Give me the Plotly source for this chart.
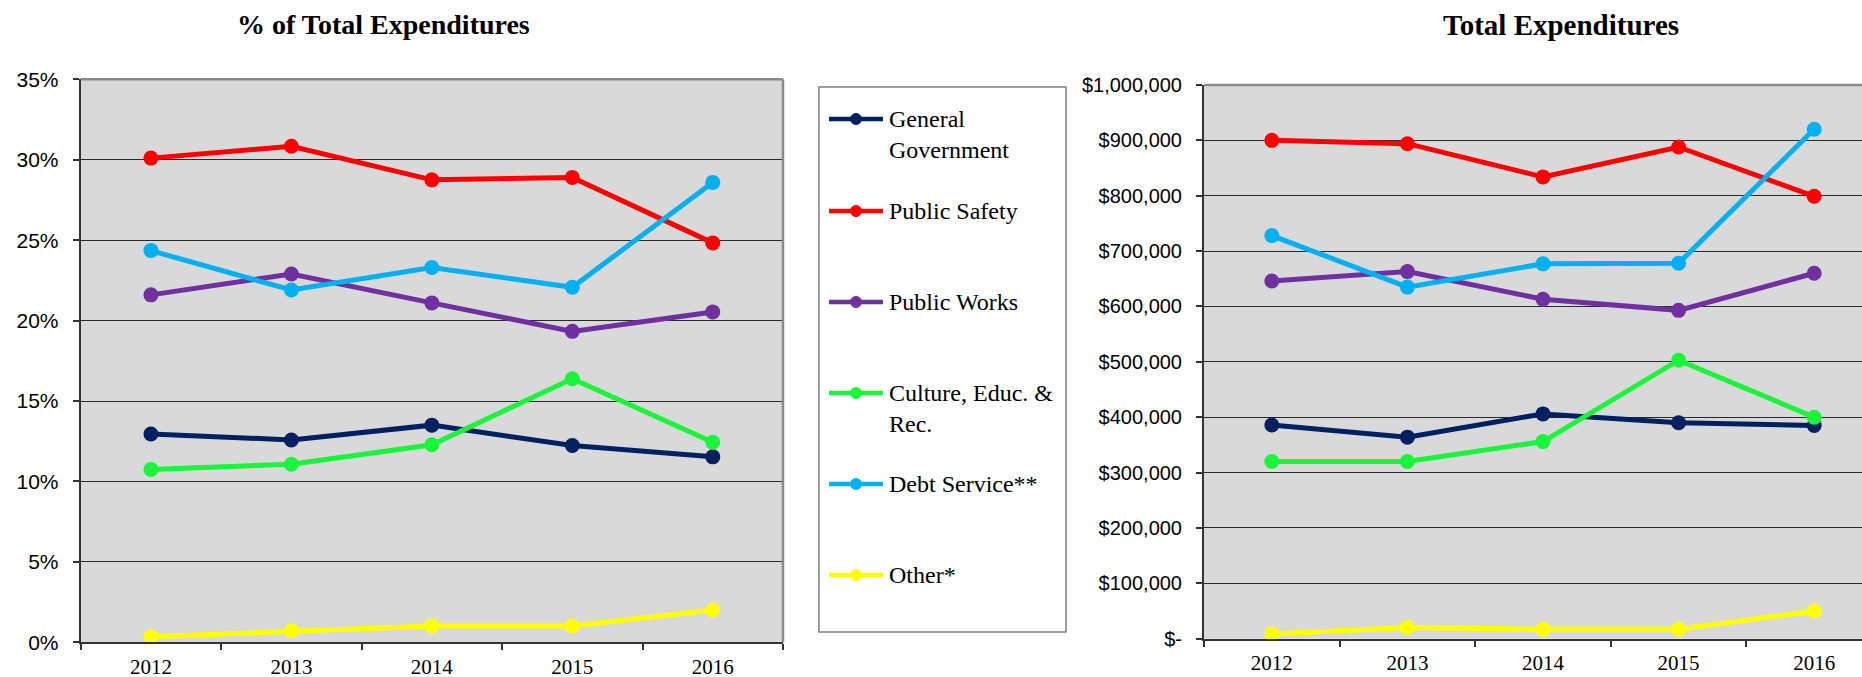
import plotly.graph_objects as go

W, H = 1862, 677

# ---------------- data ----------------
years = ["2012", "2013", "2014", "2015", "2016"]

series_names = ["General<br>Government", "Public Safety", "Public Works",
                "Culture, Educ. &<br>Rec.", "Debt Service**", "Other*"]
series_colors = ["#002060", "#ff0000", "#7030a0", "#19f53a", "#00b0f0", "#ffff00"]

# % of total expenditures
pct_general = [12.95, 12.58, 13.50, 12.23, 11.53]
pct_safety = [30.10, 30.84, 28.75, 28.90, 24.83]
pct_works = [21.60, 22.90, 21.10, 19.33, 20.54]
pct_culture = [10.75, 11.07, 12.28, 16.38, 12.44]
pct_debt = [24.35, 21.90, 23.30, 22.07, 28.59]
pct_other = [0.35, 0.72, 1.02, 1.02, 2.01]

# total expenditures ($)
usd_general = [386000, 364000, 406000, 390000, 385000]
usd_safety = [900000, 894000, 834000, 888000, 799000]
usd_works = [646000, 663000, 613000, 593000, 660000]
usd_culture = [320000, 320000, 356000, 503000, 400000]
usd_debt = [728000, 635000, 677000, 678000, 920000]
usd_other = [8600, 20300, 17200, 17200, 50000]

pct_ticks = [0, 5, 10, 15, 20, 25, 30, 35]
pct_ticktext = ["0%", "5%", "10%", "15%", "20%", "25%", "30%", "35%"]
usd_ticks = [0, 100000, 200000, 300000, 400000, 500000, 600000, 700000, 800000, 900000, 1000000]
usd_ticktext = ["$-", "$100,000", "$200,000", "$300,000", "$400,000", "$500,000",
                "$600,000", "$700,000", "$800,000", "$900,000", "$1,000,000"]

left_title = "% of Total Expenditures"
right_title = "Total Expenditures"

pct_series = [pct_general, pct_safety, pct_works, pct_culture, pct_debt, pct_other]
usd_series = [usd_general, usd_safety, usd_works, usd_culture, usd_debt, usd_other]

# ---------------- layout helpers ----------------
def px(x):
    return x / W


def py(y):
    return 1 - y / H


SANS = "Arial, Liberation Sans, sans-serif"
SERIF = "Times New Roman, Liberation Serif, serif"
LINE_W = 5
MARK = 15

fig = go.Figure()

for name, col, vals in zip(series_names, series_colors, pct_series):
    fig.add_trace(go.Scatter(x=years, y=vals, mode="lines+markers", name=name,
                             line=dict(color=col, width=LINE_W),
                             marker=dict(color=col, size=MARK),
                             cliponaxis=False, showlegend=False,
                             xaxis="x", yaxis="y"))

for name, col, vals in zip(series_names, series_colors, usd_series):
    fig.add_trace(go.Scatter(x=years, y=vals, mode="lines+markers", name=name,
                             line=dict(color=col, width=LINE_W),
                             marker=dict(color=col, size=MARK),
                             cliponaxis=False, showlegend=False,
                             xaxis="x2", yaxis="y2"))

# plot geometry (pixels)
L_x0, L_x1, L_y0, L_y1 = 80.7, 783.0, 79.3, 642.3
R_x0, R_y0, R_y1 = 1204.0, 85.0, 638.7
R_cat = 135.6
R_range_end = -0.5 + (W - R_x0) / R_cat

axis_common = dict(showline=True, linecolor="#333333", linewidth=2,
                   ticks="outside", ticklen=6, tickcolor="#333333", tickwidth=1.5,
                   zeroline=False, automargin=False)

fig.update_layout(
    width=W, height=H, template="none",
    margin=dict(l=0, r=0, t=0, b=0),
    paper_bgcolor="white", plot_bgcolor="#d9d9d9",
    showlegend=False,
    xaxis=dict(domain=[px(L_x0), px(L_x1)], anchor="y", type="category",
               categoryorder="array", categoryarray=years, range=[-0.5, 4.5],
               tickson="boundaries", showgrid=False,
               tickfont=dict(family=SERIF, size=21, color="black"),
               ticklabelstandoff=4, **axis_common),
    yaxis=dict(domain=[py(L_y1), py(L_y0)], anchor="x", range=[0, 35],
               tickvals=pct_ticks, ticktext=pct_ticktext, showgrid=True,
               gridcolor="#2a2a2a", gridwidth=1.2,
               tickfont=dict(family=SANS, size=21, color="black"),
               ticklabelstandoff=10, **axis_common),
    xaxis2=dict(domain=[px(R_x0), 1.0], anchor="y2", type="category",
                categoryorder="array", categoryarray=years, range=[-0.5, R_range_end],
                tickson="boundaries", showgrid=False,
                tickfont=dict(family=SERIF, size=21, color="black"),
                ticklabelstandoff=4, **axis_common),
    yaxis2=dict(domain=[py(R_y1), py(R_y0)], anchor="x2", range=[0, 1000000],
                tickvals=usd_ticks, ticktext=usd_ticktext, showgrid=True,
                gridcolor="#2a2a2a", gridwidth=1.2,
                tickfont=dict(family=SANS, size=20, color="black"),
                ticklabelstandoff=10, **axis_common),
)

shapes = []
border = "#8a8a8a"
# left plot top & right border
shapes.append(dict(type="line", xref="x domain", yref="y domain", x0=0, x1=1, y0=1, y1=1,
                   line=dict(color=border, width=2.5)))
shapes.append(dict(type="line", xref="x domain", yref="y domain", x0=1, x1=1, y0=0, y1=1,
                   line=dict(color=border, width=2.5)))
# right plot top border
shapes.append(dict(type="line", xref="x2 domain", yref="y2 domain", x0=0, x1=1, y0=1, y1=1,
                   line=dict(color=border, width=2.5)))

# legend box
LB_x0, LB_x1, LB_y0, LB_y1 = 819, 1066, 87, 632
shapes.append(dict(type="rect", xref="paper", yref="paper",
                   x0=px(LB_x0), x1=px(LB_x1), y0=py(LB_y1), y1=py(LB_y0),
                   line=dict(color="#808080", width=1.5), fillcolor="white", layer="below"))

annotations = []
entry_y = [119, 211, 302, 393, 484, 575]
for name, col, ey in zip(series_names, series_colors, entry_y):
    shapes.append(dict(type="line", xref="paper", yref="paper",
                       x0=px(829), x1=px(883), y0=py(ey), y1=py(ey),
                       line=dict(color=col, width=4.5)))
    r = 5.5
    shapes.append(dict(type="circle", xref="paper", yref="paper",
                       x0=px(856 - r), x1=px(856 + r), y0=py(ey + r), y1=py(ey - r),
                       fillcolor=col, line=dict(color=col, width=1)))
    annotations.append(dict(xref="paper", yref="paper", x=px(887), y=py(ey - 15),
                            xanchor="left", yanchor="top", align="left",
                            text=name, showarrow=False,
                            font=dict(family=SERIF, size=24, color="black")))

annotations.append(dict(xref="paper", yref="paper", x=px(383.5), y=py(24),
                        xanchor="center", yanchor="middle", text="<b>" + left_title + "</b>",
                        showarrow=False, font=dict(family=SERIF, size=28, color="black")))
annotations.append(dict(xref="paper", yref="paper", x=px(1560.7), y=py(25.5),
                        xanchor="center", yanchor="middle", text="<b>" + right_title + "</b>",
                        showarrow=False, font=dict(family=SERIF, size=29, color="black")))

fig.update_layout(shapes=shapes, annotations=annotations)

fig.write_html("out.html", config={"displayModeBar": False},
               post_script="document.body.style.margin='0px';document.body.style.overflow='hidden';")
